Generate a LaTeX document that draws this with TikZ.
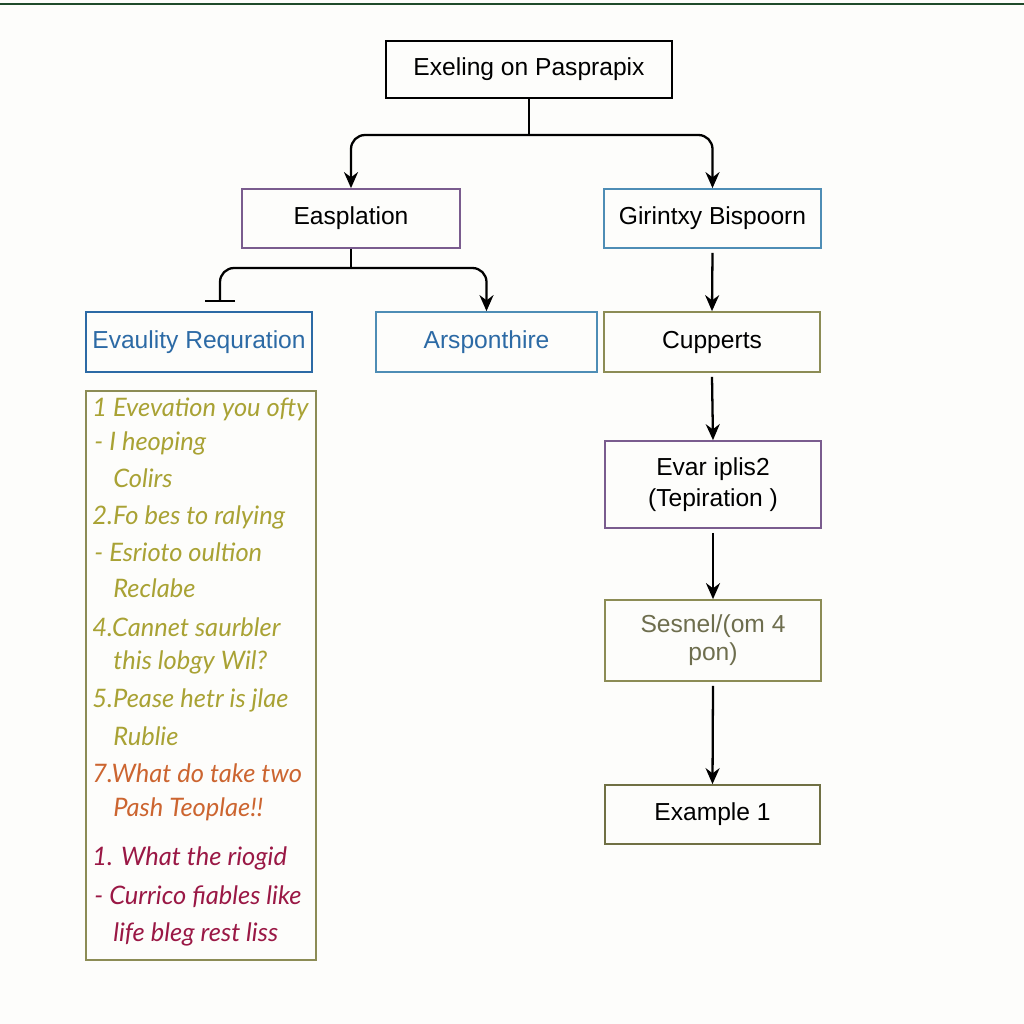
\documentclass[tikz,border=0pt]{standalone}
\usepackage{fontspec}
\setmainfont{Liberation Sans}
\newfontfamily\handfont{Lato}
\usetikzlibrary{arrows.meta}

\definecolor{bgwhite}{HTML}{FDFDFB}
\definecolor{topgreen}{HTML}{1F4A2A}
\definecolor{boxpurple}{HTML}{7A5C8E}
\definecolor{boxblue}{HTML}{4E8DB5}
\definecolor{textblue}{HTML}{2C6AA5}
\definecolor{boxolive}{HTML}{8C8C55}
\definecolor{textolive}{HTML}{6E6E4E}
\definecolor{listolive}{HTML}{A9A234}
\definecolor{listorange}{HTML}{CC6530}
\definecolor{listred}{HTML}{9A1845}

\begin{document}
\begin{tikzpicture}[x=0.02cm, y=-0.02cm,
	box/.style={draw, rectangle, line width=1pt, align=center, inner sep=2pt,
		font=\fontsize{14}{17}\selectfont},
	line/.style={line width=1.3pt, rounded corners=8pt},
	arrow/.style={line, -{Stealth[length=0.32cm, width=0.28cm]}},
	item/.style={anchor=west, inner sep=0pt, font=\handfont\itshape\fontsize{14.5}{17}\selectfont}]
	\fill[bgwhite] (0, 0) rectangle (1024, 1024);
	\useasboundingbox (0, 0) rectangle (1024, 1024);
	\draw[topgreen, line width=1.6pt] (0, 4) -- (1024, 4);

	% boxes
	\node[box, draw=black, minimum width=5.72cm, minimum height=1.14cm] (top) at (529, 69.5) {Exeling on Pasprapix};
	\node[box, draw=boxpurple, minimum width=4.36cm, minimum height=1.18cm] (easp) at (351, 218.5) {Easplation};
	\node[box, draw=boxblue, minimum width=4.34cm, minimum height=1.18cm] (girin) at (712.5, 218.5) {Girintxy Bispoorn};
	\node[box, draw=textblue, text=textblue, minimum width=4.52cm, minimum height=1.2cm] (evaul) at (199, 342) {Evaulity Requration};
	\node[box, draw=boxblue, text=textblue, minimum width=4.42cm, minimum height=1.2cm] (arsp) at (486.5, 342) {Arsponthire};
	\node[box, draw=boxolive, minimum width=4.32cm, minimum height=1.2cm] (cupp) at (712, 342) {Cupperts};
	\node[box, draw=boxpurple, minimum width=4.32cm, minimum height=1.74cm] (evar) at (713, 484.5) {Evar iplis2\\[1pt](Tepiration )};
	\node[box, draw=boxolive, text=textolive, minimum width=4.32cm, minimum height=1.62cm] (sesn) at (713, 640.5) {Sesnel/(om 4\\[-1pt]pon)};
	\node[box, draw=boxolive!80!black, minimum width=4.3cm, minimum height=1.18cm] (examp) at (712.5, 814.5) {Example 1};
	\node[draw=boxolive, line width=1pt, minimum width=4.6cm, minimum height=11.38cm] (list) at (201, 675.5) {};

	% list entries
	\node[item, text=listolive] (l1) at (92, 409) {1 Evevation you ofty};
	\node[item, text=listolive] (l2) at (94, 443) {- I heoping};
	\node[item, text=listolive] (l3) at (113, 478) {Colirs};
	\node[item, text=listolive] (l4) at (92, 517) {2.Fo bes to ralying};
	\node[item, text=listolive] (l5) at (94, 552) {- Esrioto oultion};
	\node[item, text=listolive] (l6) at (113, 588) {Reclabe};
	\node[item, text=listolive] (l7) at (92, 627) {4.Cannet saurbler};
	\node[item, text=listolive] (l8) at (113, 662) {this lobgy Wil?};
	\node[item, text=listolive] (l9) at (92, 700) {5.Pease hetr is jlae};
	\node[item, text=listolive] (l10) at (113, 736) {Rublie};
	\node[item, text=listorange] (l11) at (92, 773) {7.What do take two};
	\node[item, text=listorange] (l12) at (113, 809) {Pash Teoplae!!};
	\node[item, text=listred] (l13) at (92, 858) {1. What the riogid};
	\node[item, text=listred] (l14) at (94, 897) {- Currico fiables like};
	\node[item, text=listred] (l15) at (113, 934) {life bleg rest liss};

	% connectors
	\coordinate (tbus) at (529, 135);
	\coordinate (ebus) at (351, 268);
	\coordinate (ebar) at (220, 302);
	\draw[line] (top.south) -- (tbus);
	\draw[arrow] (tbus) -| (easp.north);
	\draw[arrow] (tbus) -| (girin.north);
	\draw[line] (easp.south) -- (ebus);
	\draw[line, -{Bar[width=0.6cm]}] (ebus) -| (ebar);
	\draw[arrow] (ebus) -| (arsp.north);
	\draw[arrow] ([yshift=-0.08cm]girin.south) -- (cupp.north);
	\draw[arrow] ([yshift=-0.08cm]cupp.south) -- (evar.north);
	\draw[arrow] ([yshift=-0.08cm]evar.south) -- (sesn.north);
	\draw[arrow] ([yshift=-0.08cm]sesn.south) -- (examp.north);
\end{tikzpicture}
\end{document}
